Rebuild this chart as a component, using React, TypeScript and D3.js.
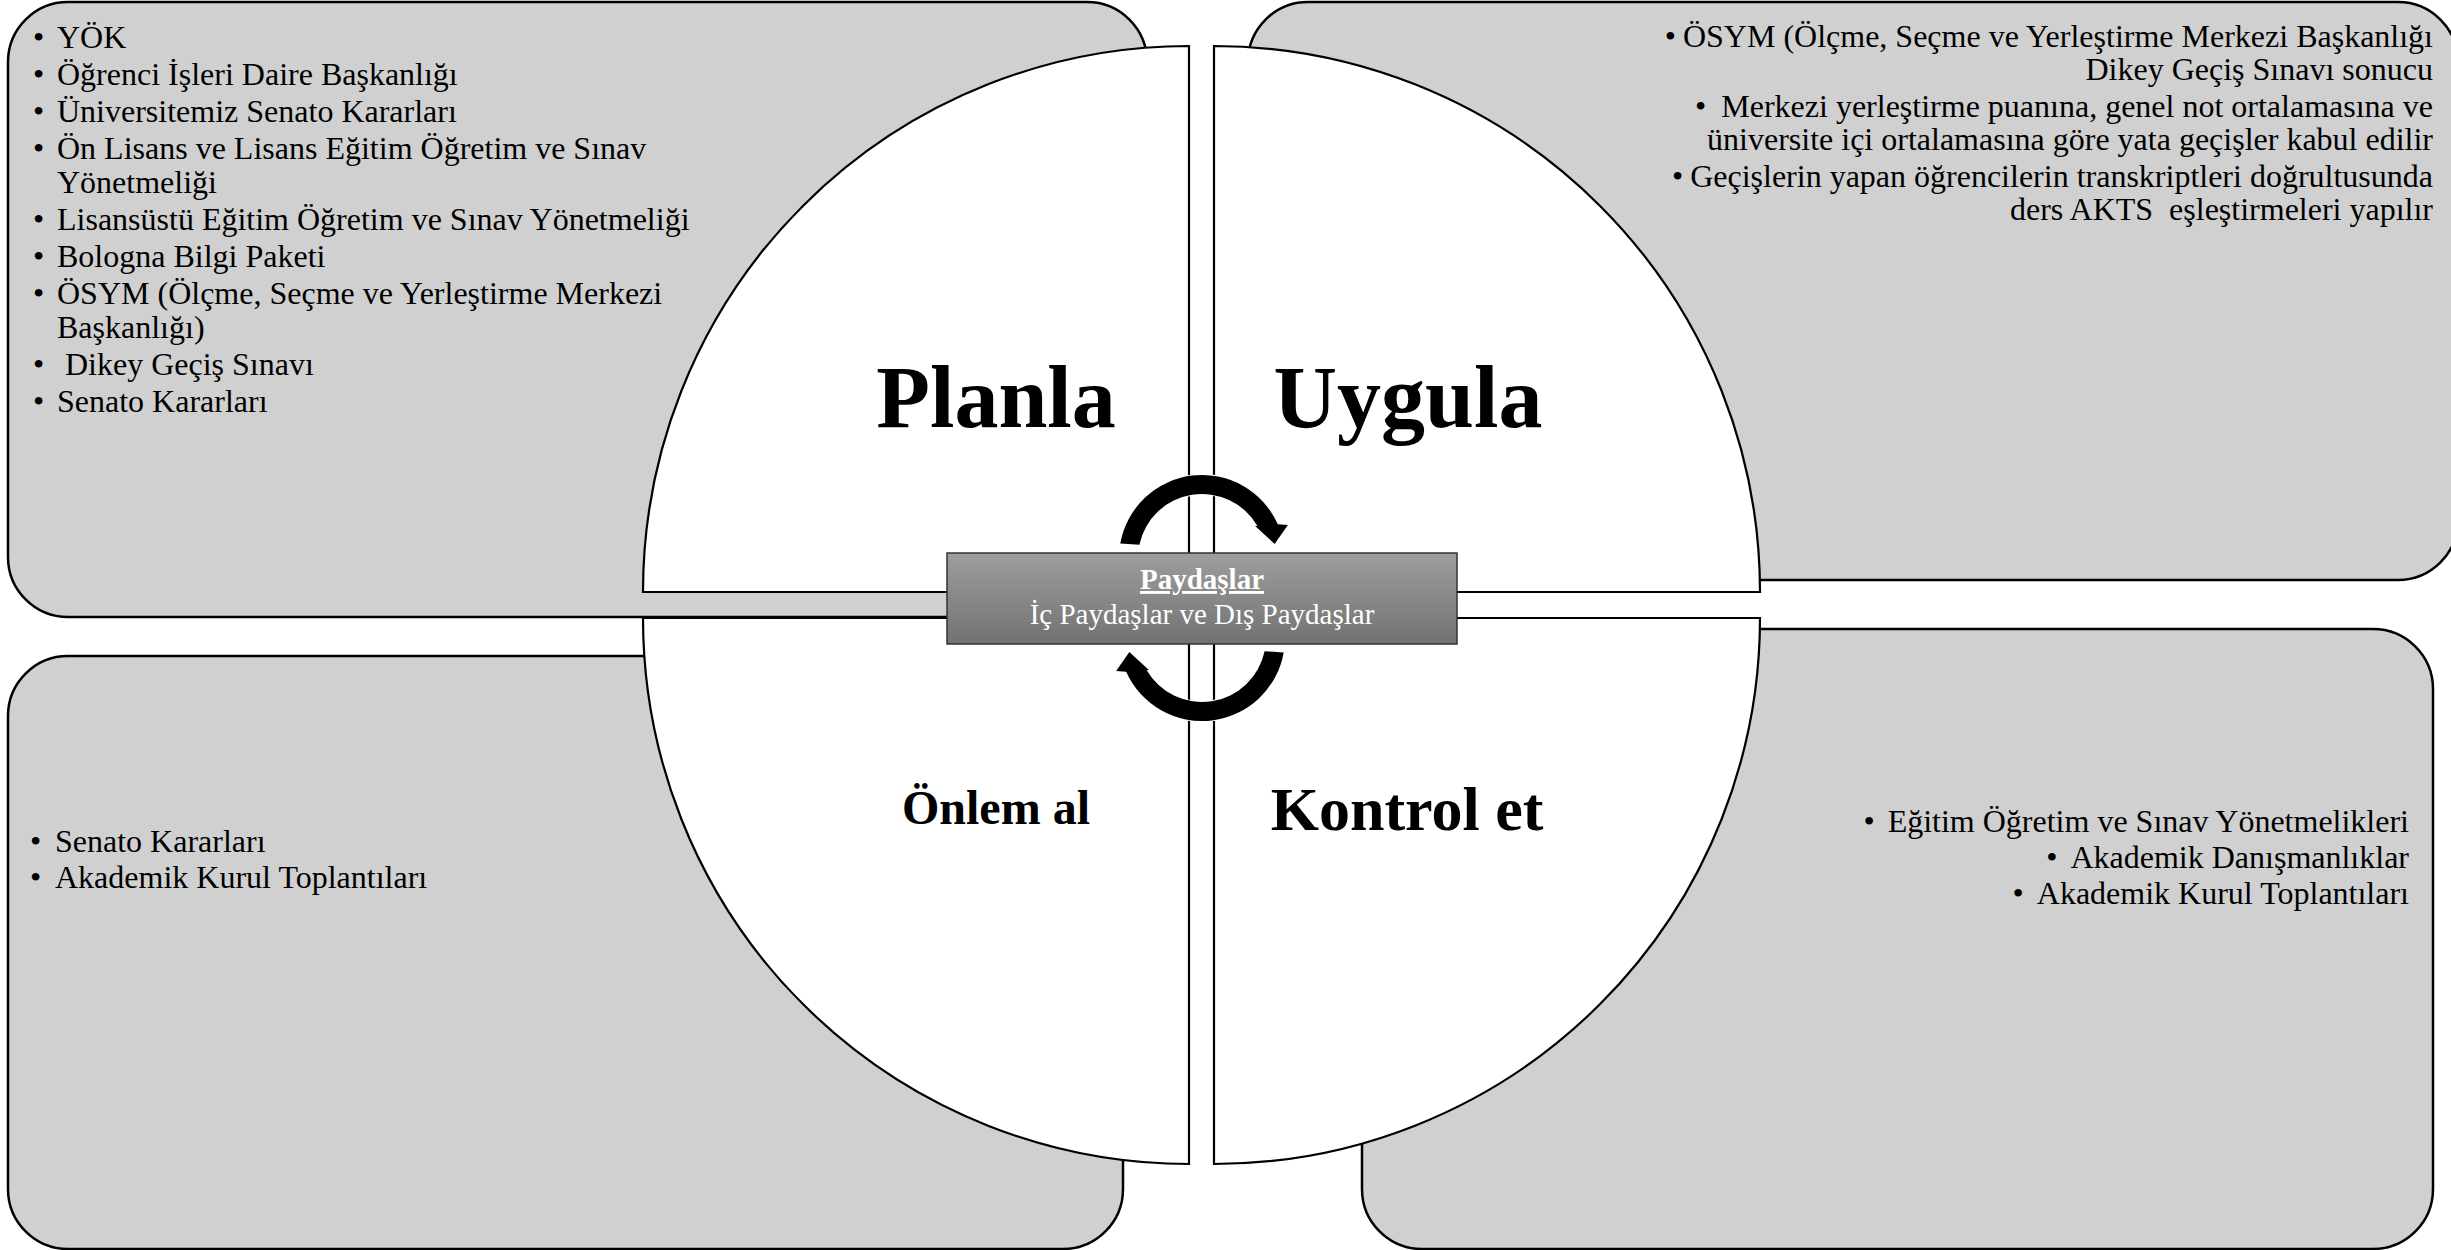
import { useEffect, useRef } from 'react'
import * as d3 from 'd3'

// names of the four quarters of the cycle
const phases = ['Planla', 'Uygula', 'Kontrol et', 'Önlem al']

const centerTitle = 'Paydaşlar'
const centerSubtitle = 'İç Paydaşlar ve Dış Paydaşlar'

// every item is a list of its wrapped lines
const planItems = [
  ['YÖK'],
  ['Öğrenci İşleri Daire Başkanlığı'],
  ['Üniversitemiz Senato Kararları'],
  ['Ön Lisans ve Lisans Eğitim Öğretim ve Sınav', 'Yönetmeliği'],
  ['Lisansüstü Eğitim Öğretim ve Sınav Yönetmeliği'],
  ['Bologna Bilgi Paketi'],
  ['ÖSYM (Ölçme, Seçme ve Yerleştirme Merkezi', 'Başkanlığı)'],
  ['\u00a0Dikey Geçiş Sınavı'],
  ['Senato Kararları'],
]

const doItems = [
  ['ÖSYM (Ölçme, Seçme ve Yerleştirme Merkezi Başkanlığı', 'Dikey Geçiş Sınavı sonucu'],
  ['Merkezi yerleştirme puanına, genel not ortalamasına ve', 'üniversite içi ortalamasına göre yata geçişler kabul edilir'],
  ['Geçişlerin yapan öğrencilerin transkriptleri doğrultusunda', 'ders AKTS\u00a0 eşleştirmeleri yapılır'],
]

const checkItems = [
  ['Eğitim Öğretim ve Sınav Yönetmelikleri'],
  ['Akademik Danışmanlıklar'],
  ['Akademik Kurul Toplantıları'],
]

const actItems = [
  ['Senato Kararları'],
  ['Akademik Kurul Toplantıları'],
]

const W = 2451
const H = 1250
const FONT = '"Liberation Serif", "Times New Roman", serif'
const R = 546

// grey note boxes behind the circle
const boxes = [
  { x0: 8, y0: 2, x1: 1147, y1: 617 },
  { x0: 1248, y0: 2, x1: 2458, y1: 580 },
  { x0: 1362, y0: 629, x1: 2433, y1: 1249 },
  { x0: 8, y0: 656, x1: 1123, y1: 1249 },
]

// quarter circles, each pinned at its own corner
const quarters = [
  { cx: 1189, cy: 592, a0: -Math.PI / 2, a1: 0 },
  { cx: 1214, cy: 592, a0: 0, a1: Math.PI / 2 },
  { cx: 1214, cy: 618, a0: Math.PI / 2, a1: Math.PI },
  { cx: 1189, cy: 618, a0: Math.PI, a1: 1.5 * Math.PI },
]

const phaseLayout = [
  { x: 996, y: 427, size: 88 },
  { x: 1408, y: 427, size: 88 },
  { x: 1407, y: 830, size: 62 },
  { x: 996, y: 824, size: 48 },
]

const polar = (cx, cy, r, deg) => {
  const a = (deg * Math.PI) / 180
  return [cx + r * Math.sin(a), cy - r * Math.cos(a)]
}
const toSvg = (deg) => ((deg - 90) * Math.PI) / 180

// thick curved arrow, rot = 0 is the upper one
const arrowPath = (cx, cy, rot) => {
  const ro = 83, ri = 64
  const p = d3.path()
  const s = polar(cx, cy, ro, -80 + rot)
  p.moveTo(s[0], s[1])
  p.arc(cx, cy, ro, toSvg(-80 + rot), toSvg(66 + rot), false)
  const b2 = polar(cx, cy, 92, 69 + rot)
  const tip = polar(cx, cy, 74, 79 + rot)
  const b1 = polar(cx, cy, 62, 59 + rot)
  p.lineTo(b2[0], b2[1])
  p.lineTo(tip[0], tip[1])
  p.lineTo(b1[0], b1[1])
  p.arc(cx, cy, ri, toSvg(60 + rot), toSvg(-78 + rot), true)
  p.closePath()
  return p.toString()
}

const App = () => {
  const ref = useRef(null)

  useEffect(() => {
    const svg = d3.select(ref.current)
    svg.selectAll('*').remove()

    const grad = svg.append('defs').append('linearGradient')
      .attr('id', 'centerFill').attr('x1', 0).attr('y1', 0).attr('x2', 0).attr('y2', 1)
    grad.append('stop').attr('offset', '0%').attr('stop-color', '#9e9e9e')
    grad.append('stop').attr('offset', '100%').attr('stop-color', '#727272')

    svg.append('g').selectAll('rect').data(boxes).enter().append('rect')
      .attr('x', d => d.x0).attr('y', d => d.y0)
      .attr('width', d => d.x1 - d.x0).attr('height', d => d.y1 - d.y0)
      .attr('rx', 60).attr('ry', 60)
      .style('fill', '#d0d0d0').style('stroke', '#000').style('stroke-width', 2.5)

    const quarter = d3.arc().innerRadius(0).outerRadius(R)
    svg.append('g').selectAll('path').data(quarters).enter().append('path')
      .attr('transform', d => `translate(${d.cx},${d.cy})`)
      .attr('d', d => quarter({ startAngle: d.a0, endAngle: d.a1 }))
      .style('fill', '#fff').style('stroke', '#000').style('stroke-width', 2.2)

    svg.append('g').selectAll('text').data(phases).enter().append('text')
      .attr('x', (d, i) => phaseLayout[i].x)
      .attr('y', (d, i) => phaseLayout[i].y)
      .attr('text-anchor', 'middle')
      .style('font-family', FONT).style('font-weight', 'bold')
      .style('font-size', (d, i) => phaseLayout[i].size + 'px')
      .text(d => d)

    // centre box
    svg.append('rect')
      .attr('x', 947).attr('y', 553).attr('width', 510).attr('height', 91)
      .style('fill', 'url(#centerFill)').style('stroke', '#333').style('stroke-width', 1.5)
    svg.append('text')
      .attr('x', 1202).attr('y', 589).attr('text-anchor', 'middle')
      .style('font-family', FONT).style('font-size', '29px').style('font-weight', 'bold')
      .style('text-decoration', 'underline').style('fill', '#fff')
      .text(centerTitle)
    svg.append('text')
      .attr('x', 1202).attr('y', 624).attr('text-anchor', 'middle')
      .style('font-family', FONT).style('font-size', '29px').style('fill', '#fff')
      .text(centerSubtitle)

    // arrows
    svg.append('g').selectAll('path').data([[558, 0], [638, 180]]).enter().append('path')
      .attr('d', d => arrowPath(1202, d[0], d[1]))
      .style('fill', '#000').style('stroke', '#fff').style('stroke-width', 2)
      .style('paint-order', 'stroke')

    const drawList = (items, cfg) => {
      const g = svg.append('g').style('font-family', FONT).style('font-size', '32px').style('fill', '#000')
      let y = cfg.y
      items.forEach((lines, i) => {
        lines.forEach((line, j) => {
          if (j > 0) y += cfg.lineStep
          if (cfg.anchor === 'start') {
            if (j === 0) g.append('text').attr('x', cfg.bulletX).attr('y', y).text('•')
            g.append('text').attr('x', cfg.x).attr('y', y).text(line)
          } else {
            const t = g.append('text').attr('x', cfg.x).attr('y', y).attr('text-anchor', 'end')
            if (j === 0) {
              t.append('tspan').text('•')
              t.append('tspan').attr('dx', cfg.gaps[i]).text(line)
            } else t.text(line)
          }
        })
        y += cfg.itemStep
      })
    }

    drawList(planItems, { anchor: 'start', x: 57, bulletX: 33, y: 48, itemStep: 37, lineStep: 34 })
    drawList(doItems, { anchor: 'end', x: 2433, y: 47, itemStep: 37, lineStep: 33, gaps: [7, 15, 7] })
    drawList(checkItems, { anchor: 'end', x: 2409, y: 832, itemStep: 36, lineStep: 34, gaps: [13, 13, 13] })
    drawList(actItems, { anchor: 'start', x: 55, bulletX: 30, y: 852, itemStep: 36, lineStep: 34 })
  }, [])

  return (
    <svg ref={ref} width={W} height={H}
      style={{ position: 'absolute', left: 0, top: 0, display: 'block', background: '#fff' }} />
  )
}

export default App
